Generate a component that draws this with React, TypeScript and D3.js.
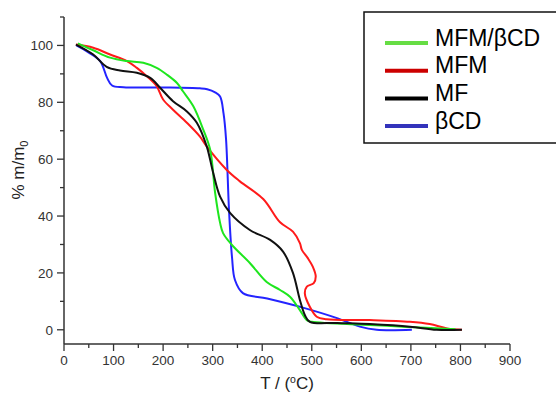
import React from "react";
import * as d3 from "d3";

const seriesNames = ["MFM/βCD", "MFM", "MF", "βCD"];
const curveColors = ["#1ee61e", "#ff1a1a", "#111111", "#2424ff"];
const legendColors = ["#66dd44", "#cc0000", "#000000", "#3333bb"];

const tGreen = [28, 59, 93, 127, 160, 187, 207, 228, 240, 261, 281, 295, 305, 315, 321, 338, 375, 409, 436, 456, 476, 490, 500, 617, 684, 790];
const mGreen = [100.7, 98.3, 95.7, 94.5, 93.9, 92.1, 89.8, 86.8, 83.9, 78.6, 70.4, 63.3, 48.1, 37.6, 34, 30, 23.5, 16.8, 14, 11.6, 6.9, 3.4, 2.8, 1.7, 1.1, 0.2];

const tRed = [24, 59, 93, 127, 147, 167, 187, 200, 220, 248, 274, 288, 328, 355, 402, 436, 462, 476, 480, 492, 502, 508, 504, 490, 486, 496, 510, 530, 617, 698, 738, 773, 803];
const mRed = [100.3, 99.2, 96.8, 94.5, 92.1, 89.2, 85.7, 81, 77.4, 72.8, 68, 64.5, 56.3, 52.2, 46, 37.8, 34.5, 30.5, 28.1, 25.2, 22.2, 18.7, 16.4, 15.2, 12.8, 8.1, 4.6, 3.7, 3.4, 2.8, 2, 0.5, 0];

const tBlack = [24, 59, 86, 113, 147, 174, 194, 220, 248, 268, 288, 301, 315, 335, 375, 416, 442, 462, 476, 486, 496, 551, 617, 698, 752, 803];
const mBlack = [100.3, 96.8, 92.5, 91.2, 90.4, 88.6, 85.1, 80.4, 76.8, 72.8, 64.5, 55.2, 46.8, 41.1, 35.1, 31.6, 27.5, 20, 10.5, 5.2, 2.8, 2.4, 2, 1.1, 0, 0];

const tBlue = [25, 50, 73, 87, 97, 120, 200, 274, 289, 305, 315, 322, 327, 333, 339, 345, 361, 410, 482, 551, 597, 631, 702];
const mBlue = [100, 97.5, 94.5, 88.6, 85.9, 85.3, 85.2, 84.9, 84.6, 83.5, 82, 76, 67, 42, 25.6, 17.5, 12.9, 11, 7.8, 4.1, 1.1, 0, 0];

const xMajor = [0, 100, 200, 300, 400, 500, 600, 700, 800, 900];
const xMinor = [50, 150, 250, 350, 450, 550, 650, 750, 850];
const yMajor = [0, 20, 40, 60, 80, 100];
const yMinor = [10, 30, 50, 70, 90, 110];

const temps = [tGreen, tRed, tBlack, tBlue];
const masses = [mGreen, mRed, mBlack, mBlue];

export default function App() {
  const x = d3.scaleLinear().domain([0, 900]).range([64, 510]);
  const y = d3.scaleLinear().domain([-5, 110]).range([344, 17]);
  const line = d3
    .line<[number, number]>()
    .x((d) => x(d[0]))
    .y((d) => y(d[1]))
    .curve(d3.curveCatmullRom.alpha(0.5));
  const axisColor = "#333";
  const font = "Liberation Sans, Arial, sans-serif";
  const drawOrder = [3, 1, 0, 2];
  return (
    <svg width={556} height={394} style={{ position: "absolute", left: 0, top: 0 }} fontFamily={font}>
      <rect x={0} y={0} width={556} height={394} fill="#fff" />
      {drawOrder.map((i) => (
        <path
          key={i}
          d={line(temps[i].map((t, k) => [t, masses[i][k]] as [number, number])) || ""}
          fill="none"
          stroke={curveColors[i]}
          strokeWidth={2}
          strokeLinejoin="round"
        />
      ))}
      {/* axes */}
      <line x1={64} x2={64} y1={y(110)} y2={344} stroke={axisColor} strokeWidth={1.5} />
      <line x1={64} x2={x(900)} y1={344} y2={344} stroke={axisColor} strokeWidth={1.5} />
      {xMajor.map((v) => (
        <g key={"xm" + v}>
          <line x1={x(v)} x2={x(v)} y1={344} y2={351} stroke={axisColor} strokeWidth={1.3} />
          <text x={x(v)} y={365} textAnchor="middle" fontSize={13.5} fill="#333">
            {v}
          </text>
        </g>
      ))}
      {xMinor.map((v) => (
        <line key={"xn" + v} x1={x(v)} x2={x(v)} y1={344} y2={348} stroke={axisColor} strokeWidth={1.3} />
      ))}
      {yMajor.map((v) => (
        <g key={"ym" + v}>
          <line x1={57} x2={64} y1={y(v)} y2={y(v)} stroke={axisColor} strokeWidth={1.3} />
          <text x={53} y={y(v) + 4.8} textAnchor="end" fontSize={13.5} fill="#333">
            {v}
          </text>
        </g>
      ))}
      {yMinor.map((v) => (
        <line key={"yn" + v} x1={60} x2={64} y1={y(v)} y2={y(v)} stroke={axisColor} strokeWidth={1.3} />
      ))}
      {/* axis labels */}
      <text x={287} y={389} textAnchor="middle" fontSize={17} fill="#222">
        T / (<tspan fontSize={10.5} dy={-6.5}>o</tspan>
        <tspan dy={6.5}>C)</tspan>
      </text>
      <text transform="translate(24,170) rotate(-90)" textAnchor="middle" fontSize={17} fill="#222">
        % m/m<tspan fontSize={11} dy={4}>0</tspan>
      </text>
      {/* legend */}
      <rect x={364} y={12} width={200} height={131} fill="#fff" stroke="#111" strokeWidth={1.5} />
      {seriesNames.map((n, i) => {
        const ly = 43 + i * 27.7;
        return (
          <g key={n}>
            <line x1={385} x2={428} y1={ly} y2={ly} stroke={legendColors[i]} strokeWidth={4} />
            <text x={435} y={ly + 2.7} fontSize={23} fill="#000">
              {n}
            </text>
          </g>
        );
      })}
    </svg>
  );
}
